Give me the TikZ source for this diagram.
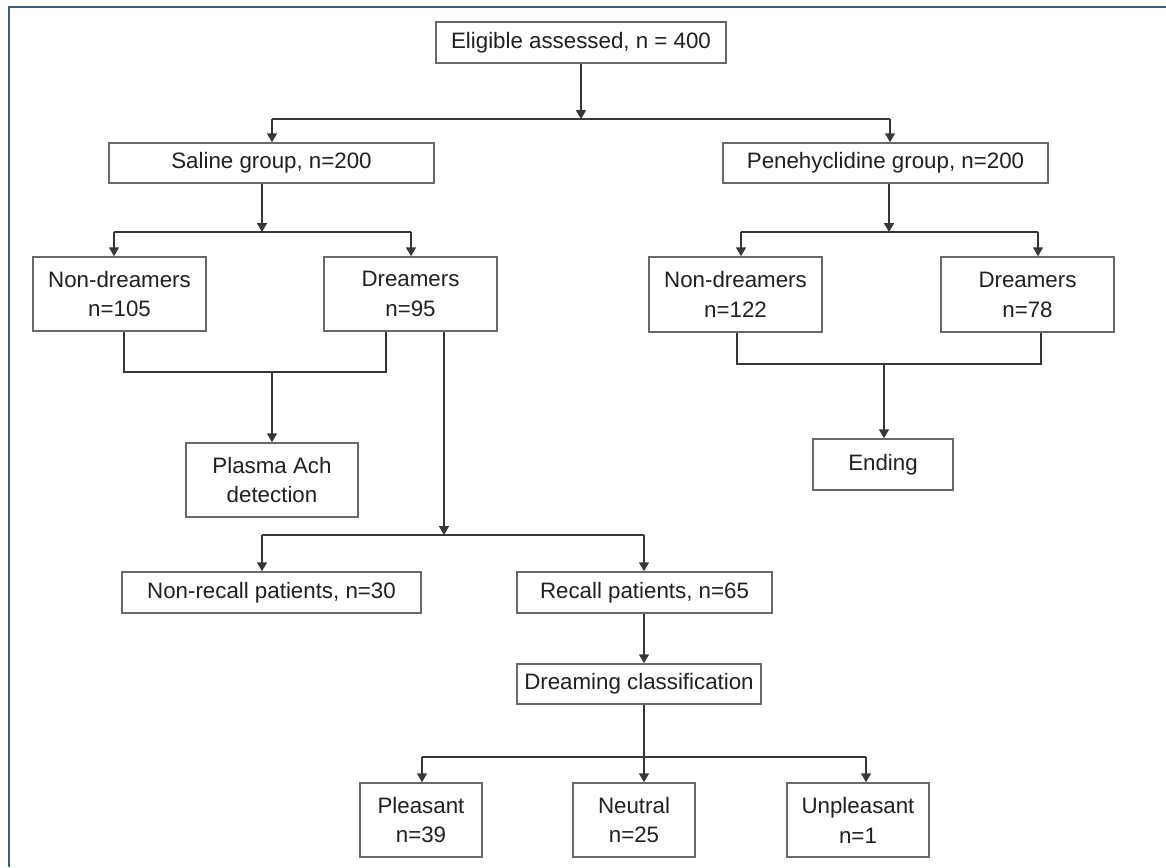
\documentclass[tikz,border=0pt]{standalone}
\usepackage{fontspec}
\setmainfont{Liberation Sans}
\usepackage{xcolor}
\usepackage{tikz}
\usetikzlibrary{arrows.meta, positioning}

\definecolor{framecol}{RGB}{52,96,125}
\definecolor{boxcol}{RGB}{105,105,105}
\definecolor{linecol}{RGB}{55,55,55}
\definecolor{txtcol}{RGB}{35,31,32}

\tikzset{
    box/.style={draw=boxcol, line width=0.9pt, fill=white, text=txtcol, align=center,
        inner sep=0pt, font=\fontsize{12.7}{17}\selectfont},
    boxsize/.style 2 args={minimum width=#1*0.02cm, minimum height=#2*0.02cm},
    line/.style={draw=linecol, line width=0.8pt},
    link/.style={line, -{Triangle[width=5.6pt, length=5pt]}}
}

\begin{document}
\begin{tikzpicture}[x=0.02cm, y=-0.02cm]
    \useasboundingbox (0,0) rectangle (1166,867);
    % Khung ngoài
    \draw[framecol, line width=1.2pt] (9,867) -- (9,7) -- (1166,7);

    % Các ô
    \node[box, boxsize={290}{41}] (elig) at (581,42.5) {Eligible assessed, n = 400};
    \node[box, boxsize={325}{40}] (saline) at (271.5,163) {Saline group, n=200};
    \node[box, boxsize={325}{40}] (pene) at (885.5,163) {Penehyclidine group, n=200};
    \node[box, boxsize={173}{74}] (nds) at (119.5,294) {Non-dreamers\\n=105};
    \node[box, boxsize={173}{74}] (ds) at (410.5,294) {Dreamers\\n=95};
    \node[box, boxsize={173}{75}] (ndp) at (735.5,294.5) {Non-dreamers\\n=122};
    \node[box, boxsize={173}{75}] (dp) at (1027.5,294.5) {Dreamers\\n=78};
    \node[box, boxsize={172}{74}] (plasma) at (272,480) {Plasma Ach\\detection};
    \node[box, boxsize={140}{51}] (ending) at (883,464.5) {Ending};
    \node[box, boxsize={299}{41}] (nonrecall) at (271.5,592.5) {Non-recall patients, n=30};
    \node[box, boxsize={255}{41}] (recall) at (644.5,592.5) {Recall patients, n=65};
    \node[box, boxsize={244}{40}] (classif) at (639,684) {Dreaming classification};
    \node[box, boxsize={122}{74}] (pleasant) at (421,820) {Pleasant\\n=39};
    \node[box, boxsize={122}{74}] (neutral) at (634,820) {Neutral\\n=25};
    \node[box, boxsize={142}{74}] (unpleasant) at (858,820) {Unpleasant\\n=1};

    % Tách nhóm
    \coordinate (j1) at (581,119);
    \coordinate (j1l) at (272,119);
    \coordinate (j1r) at (890,119);
    \draw[link] (elig) -- (j1);
    \draw[line] (j1l) -- (j1r);
    \draw[link] (j1l) -- (saline.north -| j1l);
    \draw[link] (j1r) -- (pene.north -| j1r);

    % Nhóm saline
    \coordinate (j2) at (262,232);
    \coordinate (j2l) at (114,232);
    \coordinate (j2r) at (411,232);
    \draw[link] (saline.south -| j2) -- (j2);
    \draw[line] (j2l) -- (j2r);
    \draw[link] (j2l) -- (nds.north -| j2l);
    \draw[link] (j2r) -- (ds.north -| j2r);

    % Nhóm penehyclidine
    \coordinate (j3) at (889,232);
    \coordinate (j3l) at (741,232);
    \coordinate (j3r) at (1038,232);
    \draw[link] (pene.south -| j3) -- (j3);
    \draw[line] (j3l) -- (j3r);
    \draw[link] (j3l) -- (ndp.north -| j3l);
    \draw[link] (j3r) -- (dp.north -| j3r);

    % Gộp về Plasma Ach và Ending
    \coordinate (m1) at (272,372);
    \coordinate (m1l) at (124,372);
    \coordinate (m1r) at (386,372);
    \draw[line] (nds.south -| m1l) -- (m1l) -- (m1r) -- (ds.south -| m1r);
    \draw[link] (m1) -- (plasma);
    \coordinate (k1) at (884,364);
    \coordinate (k1l) at (737,364);
    \coordinate (k1r) at (1041,364);
    \draw[line] (ndp.south -| k1l) -- (k1l) -- (k1r) -- (dp.south -| k1r);
    \draw[link] (k1) -- (ending.north -| k1);

    % Dreamers -> recall
    \coordinate (m2) at (444,535);
    \coordinate (m2l) at (262,535);
    \coordinate (m2r) at (644,535);
    \draw[link] (ds.south -| m2) -- (m2);
    \draw[line] (m2l) -- (m2r);
    \draw[link] (m2l) -- (nonrecall.north -| m2l);
    \draw[link] (m2r) -- (recall.north -| m2r);
    \draw[link] (recall.south -| m2r) -- (classif.north -| m2r);

    % Phân loại giấc mơ
    \coordinate (b1) at (644,757);
    \coordinate (b1l) at (422,757);
    \coordinate (b1r) at (866,757);
    \draw[link] (classif.south -| b1) -- (neutral.north -| b1);
    \draw[line] (b1l) -- (b1r);
    \draw[link] (b1l) -- (pleasant.north -| b1l);
    \draw[link] (b1r) -- (unpleasant.north -| b1r);
\end{tikzpicture}
\end{document}
